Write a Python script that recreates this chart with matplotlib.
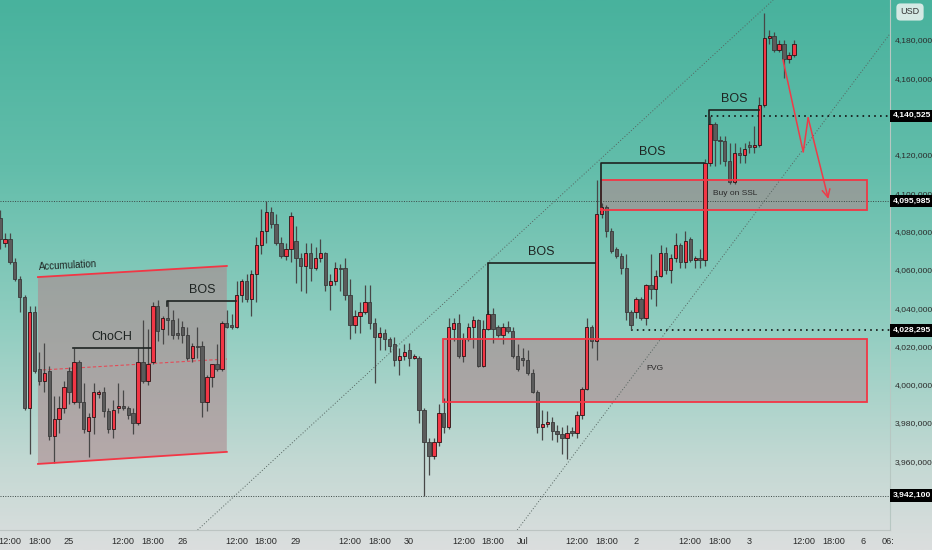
import matplotlib
matplotlib.use('Agg')
import matplotlib.pyplot as plt
from matplotlib import transforms
from matplotlib.patches import Polygon, Rectangle
from matplotlib.ticker import FuncFormatter
import numpy as np

plt.rcParams['font.family'] = ['Liberation Sans Narrow', 'Liberation Sans', 'DejaVu Sans']

# hourly candles, prices in thousands
opens_k = [
    4087, 4074, 4076, 4064, 4055, 4046, 3988, 4038, 4008, 4002,
    4007, 3973, 3982, 3988, 4007, 3991, 4012, 3991, 3976, 3983,
    3995, 3996, 3986, 3977, 3988, 3989, 3988, 3985, 3980, 4012,
    4002, 4012, 4041, 4029, 4035, 4034, 4027, 4030, 4026, 4014,
    4020, 4020, 3991, 4004, 4011, 4008, 4032, 4031, 4030, 4047,
    4054, 4045, 4058, 4073, 4080, 4090, 4084, 4074, 4067, 4071,
    4075, 4066, 4062, 4069, 4061, 4066, 4069, 4052, 4054, 4061,
    4061, 4047, 4031, 4036, 4038, 4043, 4032, 4025, 4027, 4024,
    4021, 4013, 4015, 4018, 4014, 4014, 3987, 3970, 3963, 3970,
    3985, 3978, 4029, 4032, 4015, 4024, 4030, 4034, 4010, 4029,
    4037, 4030, 4026, 4030, 4028, 4015, 4014, 4013, 4006, 3996,
    3978, 3979.5, 3980.5, 3976, 3974, 3972, 3976, 3975, 3984, 3998,
    4030, 4023, 4089, 4093, 4080, 4071, 4067, 4061, 4038, 4038,
    4045, 4035, 4052, 4050, 4057, 4069, 4060, 4066, 4073, 4064,
    4076, 4065, 4066, 4065, 4116, 4136, 4128, 4127, 4117, 4106,
    4121, 4120, 4125, 4124, 4125, 4146, 4181, 4182, 4175, 4178,
    4170, 4172,
]
closes_k = [
    4076, 4076, 4064, 4055, 4046, 3988, 4038, 4007, 4002, 4006,
    3973, 3982, 3988, 3999, 3996, 4012, 3991, 3977, 3983, 3996,
    3996, 3986, 3977, 3987, 3989, 3988, 3984, 3980, 4012, 4002,
    4011, 4041, 4028, 4035, 4034, 4026, 4026, 4026, 4014, 4020,
    4019.5, 3991, 4004, 4011, 4008, 4032, 4030, 4030, 4047, 4054,
    4045, 4058, 4073, 4080, 4090, 4084, 4074, 4067, 4071, 4088,
    4066, 4062, 4069, 4061, 4066, 4069, 4052, 4054, 4061, 4060.5,
    4047, 4031, 4036, 4038, 4043, 4032, 4025, 4027, 4024, 4020,
    4013, 4015, 4017, 4014, 4015, 3987, 3970, 3963, 3970, 3985,
    3978, 4030, 4032, 4015, 4024, 4030, 4034, 4010, 4029, 4037,
    4029, 4026, 4030, 4028, 4015, 4008, 4013, 4006, 3996, 3978,
    3979.5, 3980.5, 3976, 3974, 3972, 3975, 3975, 3984, 3998, 4030,
    4023, 4089, 4093, 4080, 4070, 4067, 4061, 4038, 4031, 4045,
    4035, 4052, 4050, 4057, 4069, 4060, 4066, 4073, 4064, 4075,
    4065, 4066, 4065, 4116, 4136, 4128, 4127, 4117, 4106, 4121,
    4120, 4123, 4124, 4125, 4146, 4181, 4182, 4175, 4178, 4170,
    4172, 4178,
]
highs_k = [
    4091, 4079, 4079, 4066, 4057, 4047, 4041, 4041, 4017, 4022,
    4010, 3994, 3994, 4002, 4009, 4019, 4013, 4001, 3985, 4001,
    3997, 3999, 3988, 3992, 4001, 3997, 3989, 3988, 4019, 4034,
    4029, 4043, 4044, 4036, 4044, 4039, 4035, 4033, 4030, 4022,
    4030, 4023, 4005, 4011, 4021, 4033, 4039, 4037, 4054, 4055,
    4058, 4060, 4077, 4092, 4096, 4093, 4089, 4077, 4074, 4090,
    4083, 4069, 4074, 4074, 4072, 4076, 4069.5, 4058, 4064, 4063,
    4066, 4055, 4039, 4043, 4052, 4052, 4035, 4030, 4029, 4025,
    4025, 4019, 4021, 4022, 4016, 4015, 3988, 3972, 3972, 3990,
    3993, 4035, 4035, 4037, 4027, 4032, 4036, 4034.5, 4034, 4039,
    4040, 4031, 4032, 4033, 4030, 4021, 4019, 4018, 4008, 3997,
    3987, 3986, 3983, 3979, 3978, 3979, 3978, 3986, 3999, 4035,
    4031, 4107, 4095, 4094, 4082, 4072, 4069, 4068, 4039, 4046,
    4046, 4052.5, 4068, 4060, 4073, 4072, 4068, 4079, 4074, 4080,
    4077, 4067, 4071, 4118, 4140.525, 4137, 4130, 4130, 4126, 4126,
    4124, 4126, 4127, 4135, 4150, 4194, 4185, 4184, 4180, 4180,
    4174, 4180,
]
lows_k = [
    4071, 4072, 4063, 4054, 4038, 3987, 3964, 4006, 4000, 3996,
    3971, 3959, 3975, 3985, 3990, 3990, 3988, 3975, 3962, 3974,
    3993, 3983, 3975, 3972, 3985, 3987, 3982, 3974, 3979, 4001,
    4000, 4011, 4023, 4021, 4026, 4024, 4024, 4022, 4013, 4012,
    4014, 3983, 3986, 3999, 4007, 4007, 4029.5, 4029, 4029.5, 4043,
    4043, 4036, 4043, 4068, 4074, 4082, 4073, 4066, 4065, 4064,
    4053, 4049, 4048, 4054, 4060, 4064, 4049, 4039, 4052, 4049,
    4044, 4024, 4027, 4027, 4037, 4029, 4001, 4018, 4018, 4017,
    4010, 4005, 4013, 4010, 4013.5, 3980, 3942.1, 3953, 3961, 3968,
    3975, 3977, 4023, 4014, 4012, 4023, 4019, 4009, 4009, 4028.6,
    4022, 4025, 4021, 4027, 4014, 4007, 4010, 4005, 3995.5, 3975,
    3971, 3978, 3971, 3970, 3964, 3961, 3973, 3972, 3982, 3997,
    4019, 4013, 4087, 4077, 4069, 4066, 4058, 4034, 4028.295, 4035,
    4034, 4031, 4045, 4041, 4056, 4058, 4053, 4064, 4061, 4061,
    4064, 4061, 4061, 4062, 4114, 4114, 4115, 4114, 4105, 4105,
    4116, 4116, 4121, 4121, 4124, 4145, 4178, 4174, 4174, 4160,
    4168, 4171,
]

# time axis (candle index of each label)
tick_pos = [2, 8, 14, 25, 31, 37, 48, 54, 60, 71, 77, 83, 94, 100, 106,
            117, 123, 129, 140, 146, 152, 163, 169, 175, 180]
tick_labels = ['12:00', '18:00', '25', '12:00', '18:00', '26', '12:00', '18:00', '29',
               '12:00', '18:00', '30', '12:00', '18:00', 'Jul', '12:00', '18:00', '2',
               '12:00', '18:00', '3', '12:00', '18:00', '6', '06:']
# 4,140,000 sits under the 4,140,525 marker in the original, so it is left out
price_ticks = [3960000, 3980000, 4000000, 4020000, 4040000, 4060000, 4080000,
               4100000, 4120000, 4160000, 4180000]
levels = [4140525, 4095985, 4028295, 3942100]

o = np.array(opens_k) * 1000
c = np.array(closes_k) * 1000
h = np.array(highs_k) * 1000
l = np.array(lows_k) * 1000
x = np.arange(len(o))

RED = '#f23645'
GRAY = '#5b5b5b'
INK = '#1e2422'
AXFONT = ['Liberation Sans Narrow', 'Liberation Sans', 'DejaVu Sans']

fig = plt.figure(figsize=(9.32, 5.5), dpi=100)

# background gradient (teal -> light grey)
bg = fig.add_axes([0, 0, 1, 1], zorder=0)
stops = [0.0, 0.3, 0.6, 0.85, 1.0]
cols = np.array([[72, 178, 157], [98, 189, 170], [146, 206, 193],
                 [197, 217, 212], [219, 222, 222]]) / 255
t = np.linspace(0, 1, 300)
grad = np.stack([np.interp(t, stops, cols[:, k]) for k in range(3)], axis=1)[:, None, :]
bg.imshow(grad, aspect='auto', extent=[0, 1, 0, 1])
bg.axis('off')

ax = fig.add_axes([0, 20 / 550, 890 / 932, 530 / 550], zorder=1)
ax.patch.set_alpha(0)
ax.set_xlim(0, 180.5)
ax.set_ylim(3924100, 4200900)

# zones
FILL = '#ad898e'
chan = [(7.7, 4056200), (46.0, 4062000), (46.0, 3964900), (7.7, 3958600)]
ax.add_patch(Polygon(chan, closed=True, fc=FILL, alpha=0.6, ec='none', zorder=1))
ax.plot([7.7, 46.0], [4056200, 4062000], color=RED, lw=1.3, zorder=4)
ax.plot([7.7, 46.0], [3958600, 3964900], color=RED, lw=1.3, zorder=4)
ax.plot([8.7, 46.0], [4007700, 4013400], color=RED, lw=0.8, ls=(0, (3, 2)), alpha=0.8, zorder=2)

for x0, x1, y0, y1 in [(89.9, 175.9, 3991000, 4023900), (121.9, 175.9, 4091200, 4106900)]:
    ax.add_patch(Rectangle((x0, y0), x1 - x0, y1 - y0, fc=FILL, alpha=0.6, ec='none', zorder=1))
    ax.add_patch(Rectangle((x0, y0), x1 - x0, y1 - y0, fill=False, ec=RED, lw=1.3, zorder=4))

# trend lines
ax.axline((115.6, 4103200), (156.8, 4200900), color='#55635f', lw=0.7, ls=(0, (1, 2)), zorder=2)
ax.axline((104.9, 3924100), (176.5, 4169600), color='#55635f', lw=0.7, ls=(0, (1, 2)), zorder=2)

# horizontal levels
ax.hlines(4140525, 143, 180.5, color='#111111', lw=1.2, ls=(0, (1, 2.5)), zorder=2)
ax.hlines(4028295, 128, 180.5, color='#111111', lw=1.2, ls=(0, (1, 2.5)), zorder=2)
ax.hlines(4095985, 0, 180.5, color='#3c4845', lw=0.7, ls=(0, (1, 1.5)), zorder=2)
ax.hlines(3942100, 0, 180.5, color='#3c4845', lw=0.7, ls=(0, (1, 1.5)), zorder=2)

# candles
up = c >= o
body_lo = np.minimum(o, c)
body_h = np.maximum(np.abs(c - o), 400)
ax.vlines(x, l, h, color='#474747', lw=0.9, zorder=2.5)
ax.bar(x, body_h, bottom=body_lo, width=0.68,
       color=np.where(up, RED, GRAY), edgecolor=np.where(up, '#2a1214', '#3a3a3a'),
       linewidth=0.6, zorder=3)

# structure marks
ax.plot([14.8, 30.6], [4019200, 4019200], color=INK, lw=1.2, zorder=4)
ax.plot([33.9, 33.9, 47.9], [4041000, 4043700, 4043700], color=INK, lw=1.2, zorder=4)
ax.plot([99, 99, 120.7], [4036900, 4063600, 4063600], color=INK, lw=1.2, zorder=4)
ax.plot([121.9, 121.9, 142.8], [4093000, 4115800, 4115800], color=INK, lw=1.2, zorder=4)
ax.plot([143.8, 143.8, 154], [4136000, 4143500, 4143500], color=INK, lw=1.2, zorder=4)

ax.text(22.7, 4021800, 'ChoCH', fontsize=9, ha='center', va='bottom', color=INK)
ax.text(41.0, 4046300, 'BOS', fontsize=9, ha='center', va='bottom', color=INK)
ax.text(109.7, 4066200, 'BOS', fontsize=9, ha='center', va='bottom', color=INK)
ax.text(132.3, 4118400, 'BOS', fontsize=9, ha='center', va='bottom', color=INK)
ax.text(148.9, 4146100, 'BOS', fontsize=9, ha='center', va='bottom', color=INK)
ax.text(7.9, 4058800, 'Accumulation', fontsize=7, ha='left', va='bottom',
        rotation=3, rotation_mode='anchor', color=INK)
ax.text(149.1, 4099600, 'Buy on SSL', fontsize=6, ha='center', va='center', color='#2a2a2a')
ax.text(132.9, 4008200, 'FVG', fontsize=6, ha='center', va='center', color='#2a2a2a')

# projected path
ax.plot([158.8, 162.9, 163.9], [4169600, 4121500, 4139300], color='#ef3b48', lw=1.1, zorder=5)
ax.annotate('', xy=(168.0, 4097000), xytext=(163.9, 4139300),
            arrowprops=dict(arrowstyle='->', color='#ef3b48', lw=1.1,
                            mutation_scale=14, shrinkA=0, shrinkB=0), zorder=5)

# axes
ax.yaxis.tick_right()
ax.set_yticks(price_ticks)
ax.yaxis.set_major_formatter(FuncFormatter(lambda v, p: f'{v:,.0f}'))
ax.set_xticks(tick_pos)
ax.set_xticklabels(tick_labels)
ax.tick_params(axis='y', length=0, pad=3.5, labelsize=6.1, labelcolor='#2b2b2b')
ax.tick_params(axis='x', length=0, pad=5, labelsize=6.6, labelcolor='#2b2b2b')
for lab in ax.get_yticklabels() + ax.get_xticklabels():
    lab.set_fontfamily(AXFONT)
for s in ['top', 'left']:
    ax.spines[s].set_visible(False)
ax.spines['right'].set_color('#b7c7c2')
ax.spines['right'].set_linewidth(0.8)
ax.spines['bottom'].set_color('#bcc4c2')
ax.spines['bottom'].set_linewidth(0.8)

trans = transforms.blended_transform_factory(ax.transAxes, ax.transData)
for lv in levels:
    ax.text(1.003, lv, f'{lv:,.0f}', transform=trans, ha='left', va='center',
            fontsize=6.1, color='white', fontweight='bold', family=AXFONT,
            clip_on=False, zorder=10,
            bbox=dict(boxstyle='square,pad=0.3', fc='black', ec='none'))

fig.text(910 / 932, 1 - 12 / 550, 'USD', ha='center', va='center', fontsize=6.5,
         color='#333333', zorder=5, family=AXFONT,
         bbox=dict(boxstyle='round,pad=0.45', fc='#eef3f1', ec='none', alpha=0.85))

fig.savefig('out.png', dpi=100)
